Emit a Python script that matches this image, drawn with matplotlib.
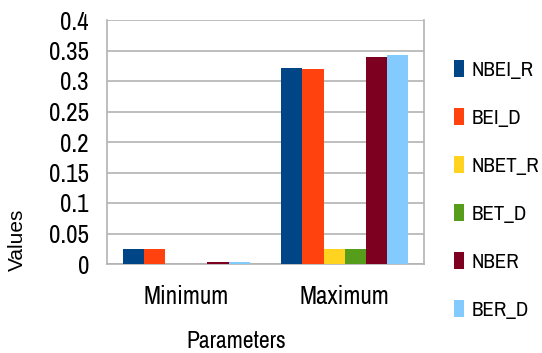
import matplotlib
matplotlib.use("Agg")
import matplotlib.pyplot as plt
import numpy as np

plt.rcParams["font.family"] = ["Archivo Narrow", "Roboto Condensed", "DejaVu Sans"]

categories = ["Minimum", "Maximum"]
series_names = ["NBEI_R", "BEI_D", "NBET_R", "BET_D", "NBER", "BER_D"]
series_values = [
    [0.025, 0.321],
    [0.025, 0.319],
    [0.0, 0.024],
    [0.0, 0.024],
    [0.004, 0.340],
    [0.004, 0.342],
]
colors = ["#004586", "#ff420e", "#ffd320", "#579d1c", "#7e0021", "#83caff"]
yticks = [0, 0.05, 0.1, 0.15, 0.2, 0.25, 0.3, 0.35, 0.4]
ytick_labels = ["0", "0.05", "0.1", "0.15", "0.2", "0.25", "0.3", "0.35", "0.4"]

fig = plt.figure(figsize=(5.42, 3.53), dpi=100)
ax = fig.add_axes([107 / 542, 1 - 264 / 353, 317 / 542, 244 / 353])

x = np.arange(len(categories))
n = len(series_names)
w = 0.8 / n
handles = []
for i, (name, vals, c) in enumerate(zip(series_names, series_values, colors)):
    b = ax.bar(x - 0.4 + w * (i + 0.5), vals, width=w, color=c, linewidth=0, label=name, zorder=3)
    handles.append(b)

ax.set_xlim(-0.5, 1.5)
ax.set_ylim(0, 0.4)
ax.set_yticks(yticks)
ax.set_yticklabels(ytick_labels, fontsize=18)
ax.set_xticks(x)
ax.set_xticklabels(categories, fontsize=18)
ax.tick_params(axis="y", length=0, pad=13)
ax.tick_params(axis="x", length=0, pad=15)
ax.yaxis.grid(True, color="#b3b3b3", linewidth=1.2, zorder=0)
for s in ["left", "right", "bottom"]:
    ax.spines[s].set_color("#b3b3b3")
    ax.spines[s].set_linewidth(1.2)
ax.spines["top"].set_visible(False)

fig.text(17 / 542, 1 - 240 / 353, "Values", rotation=90, fontsize=15,
         family=["Liberation Sans", "DejaVu Sans"], ha="center", va="center")
fig.text(236 / 542, 1 - 348 / 353, "Parameters", fontsize=17, ha="center", va="baseline")

fig.legend(handles=handles, labels=series_names, loc="upper left",
           bbox_to_anchor=(454 / 542, 1 - 60 / 353), frameon=False, fontsize=15,
           handlelength=0.5, handleheight=0.9, handletextpad=0.35, labelspacing=1.35,
           borderaxespad=0, borderpad=0)

fig.savefig("out.png", dpi=100)
